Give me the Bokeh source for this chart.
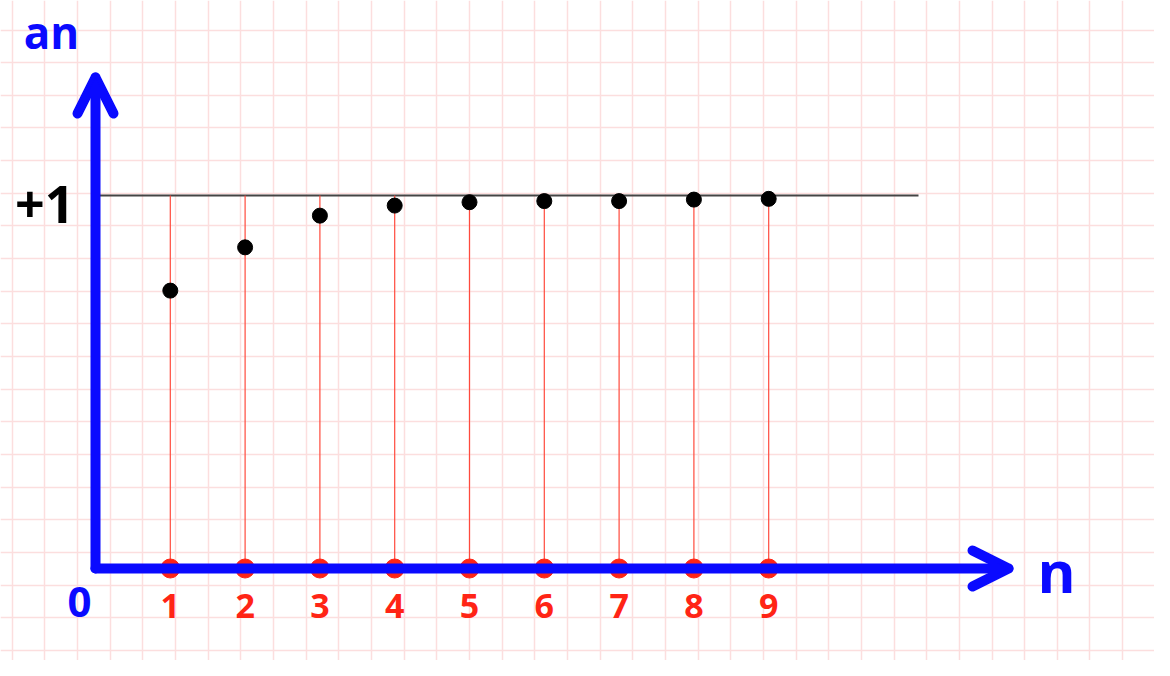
from bokeh.plotting import figure
from bokeh.models import Range1d, Grid, SingleIntervalTicker, Arrow, OpenHead
from bokeh.core.properties import value
from bokeh.embed import file_html
from bokeh.resources import INLINE

# ---- data ----
n_values = [1, 2, 3, 4, 5, 6, 7, 8, 9]
a_values = [0.745, 0.861, 0.946, 0.973, 0.982, 0.985, 0.985, 0.989, 0.991]
tick_labels = ["1", "2", "3", "4", "5", "6", "7", "8", "9"]
limit_value = 1.0
limit_label = "+1"
y_label = "an"
x_label = "n"
origin_label = "0"

# ---- layout (pixel mapping) ----
W, H = 1154, 660
PX0, PY0 = 95, 568                # origin in picture pixels
SX, SY = 74.8, 373.0              # pixels per unit

def X(px):  # picture px -> data x
    return (px - PX0) / SX

def Y(py):  # picture py -> data y
    return (PY0 - py) / SY

p = figure(width=W, height=H, output_backend="svg", toolbar_location=None,
           x_axis_type=None, y_axis_type=None, min_border=0,
           x_range=Range1d(-PX0 / SX, (W - PX0) / SX),
           y_range=Range1d(-(H - PY0) / SY, PY0 / SY))
p.outline_line_color = None
p.background_fill_color = "white"
p.border_fill_color = "white"

# graph-paper grid
p.extra_x_ranges = {"gx": Range1d(-11.7, W - 11.7)}
p.extra_y_ranges = {"gy": Range1d(H + 3.16, 3.16)}
gcol = "#fcdede"
p.add_layout(Grid(dimension=0, ticker=SingleIntervalTicker(interval=32.66), x_range_name="gx",
                  grid_line_color=gcol, grid_line_width=1.5))
p.add_layout(Grid(dimension=1, ticker=SingleIntervalTicker(interval=32.66), y_range_name="gy",
                  grid_line_color=gcol, grid_line_width=1.5))

blue = "#0a0aff"
red = "#ff2415"

# limit line
p.line([0, X(918)], [limit_value, limit_value], line_color="#444444", line_width=2)

# red stems
p.segment(x0=n_values, y0=[0] * len(n_values), x1=n_values, y1=[limit_value] * len(n_values),
          line_color="#ff4a3d", line_width=1.2)

# axes with arrows
for (xe, ye) in [(X(1008), 0), (0, Y(77))]:
    p.add_layout(Arrow(x_start=0, y_start=0, x_end=xe, y_end=ye,
                       line_color=blue, line_width=10, line_cap="round",
                       end=OpenHead(size=36, line_color=blue, line_width=10,
                                    line_cap="round", line_join="round")))

# red dots on axis
p.scatter(n_values, [0] * len(n_values), size=19, fill_color=red, line_color=red)

# black sequence dots
p.scatter(n_values, a_values, size=15, fill_color="black", line_color="black")

font = value("Open Sans")
# tick labels
p.text(x=n_values, y=[Y(605)] * len(n_values), text=tick_labels, text_color=red,
       text_font=font, text_font_style="bold", text_font_size="34px",
       text_align="center", text_baseline="alphabetic")

p.text(x=[X(51)], y=[Y(31)], text=[y_label], text_color=blue, text_font=font,
       text_font_style="bold", text_font_size="44px", text_align="center",
       text_baseline="alphabetic")
p.text(x=[X(1056)], y=[Y(570)], text=[x_label], text_color=blue, text_font=font,
       text_font_style="bold", text_font_size="58px", text_align="center",
       text_baseline="alphabetic")
p.text(x=[X(79)], y=[Y(601)], text=[origin_label], text_color=blue, text_font=font,
       text_font_style="bold", text_font_size="42px", text_align="center",
       text_baseline="alphabetic")
p.text(x=[X(74)], y=[Y(204)], text=[limit_label], text_color="black", text_font=font,
       text_font_style="bold", text_font_size="52px", text_align="right",
       text_baseline="alphabetic")

open("out.html", "w").write(file_html(p, INLINE))
